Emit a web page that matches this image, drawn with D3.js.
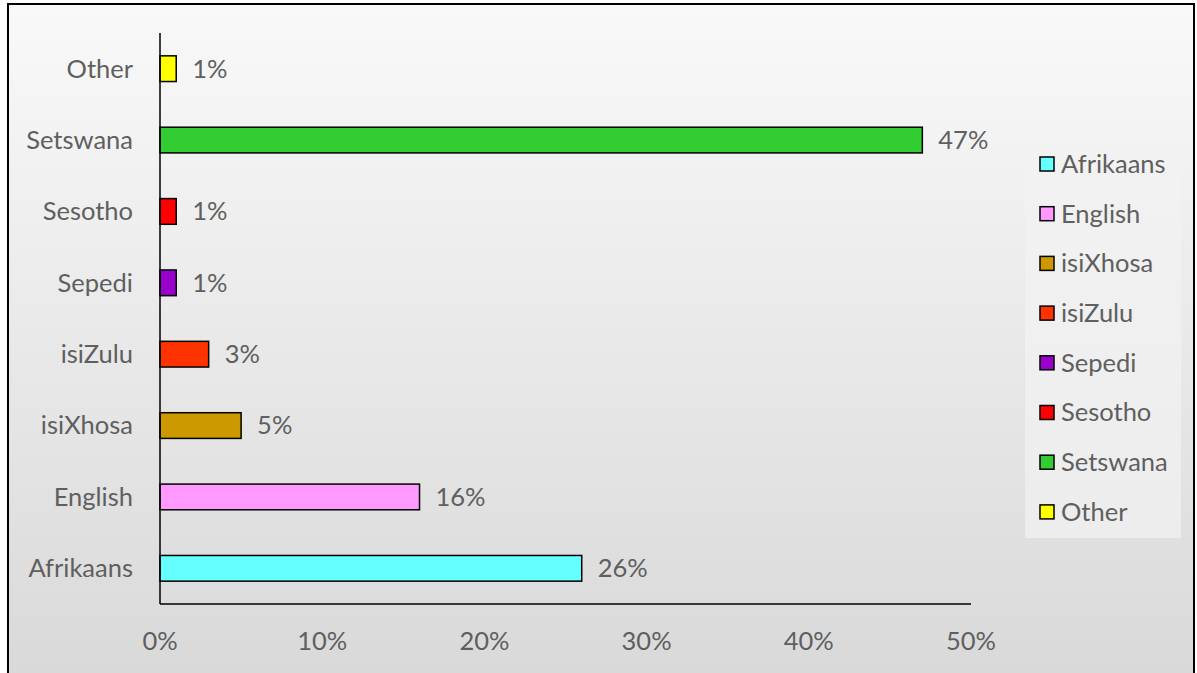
<!DOCTYPE html>
<html>
<head>
<meta charset="utf-8">
<script src="https://cdn.jsdelivr.net/npm/d3@7"></script>
<style>
  body { margin: 0; background: #fff; }
  text { font-family: Lato, "Open Sans", sans-serif; fill: #5f5f5f; }
</style>
</head>
<body>
<script>
// languages, bottom to top
const languages = ['Afrikaans', 'English', 'isiXhosa', 'isiZulu', 'Sepedi', 'Sesotho', 'Setswana', 'Other'];
const shares = [26, 16, 5, 3, 1, 1, 47, 1];
const colours = ['#66FFFF', '#FF99FF', '#CC9900', '#FF3300', '#9900CC', '#FF0000', '#33CC33', '#FFFF00'];
const xTicks = [0, 10, 20, 30, 40, 50];

const width = 1197;
const height = 673;
const fontSize = '25.5px';

const svg = d3.select('body')
  .append('svg')
  .attr('width', width)
  .attr('height', height);

// background gradient
const grad = svg.append('defs').append('linearGradient')
  .attr('id', 'bg')
  .attr('x1', 0).attr('y1', 0).attr('x2', 0).attr('y2', 1);
grad.append('stop').attr('offset', '0%').attr('stop-color', '#f9f9f9');
grad.append('stop').attr('offset', '100%').attr('stop-color', '#d8d8d8');

svg.append('rect')
  .attr('x', 8).attr('y', 4)
  .attr('width', 1186).attr('height', 690)
  .attr('fill', 'url(#bg)')
  .attr('stroke', '#000')
  .attr('stroke-width', 2);

// scales
const x = d3.scaleLinear().domain([0, 50]).range([160, 971]);
const y = d3.scaleBand()
  .domain(languages)
  .range([604, 33])
  .paddingInner(0.64)
  .paddingOuter(0.32);

// bars
svg.selectAll('.bar')
  .data(languages)
  .enter()
  .append('rect')
  .attr('class', 'bar')
  .attr('x', x(0))
  .attr('y', (d) => y(d))
  .attr('width', (d, i) => x(shares[i]) - x(0))
  .attr('height', y.bandwidth())
  .attr('fill', (d, i) => colours[i])
  .attr('stroke', '#000')
  .attr('stroke-width', 1.5);

// value labels
svg.selectAll('.value')
  .data(languages)
  .enter()
  .append('text')
  .attr('class', 'value')
  .attr('x', (d, i) => x(shares[i]) + 16)
  .attr('y', (d) => y(d) + y.bandwidth() / 2)
  .attr('dy', '0.35em')
  .style('font-size', fontSize)
  .text((d, i) => shares[i] + '%');

// axis lines
svg.append('line')
  .attr('x1', x(0)).attr('x2', x(0))
  .attr('y1', 33).attr('y2', 604)
  .attr('stroke', '#000').attr('stroke-width', 1.5);
svg.append('line')
  .attr('x1', x(0)).attr('x2', x(50))
  .attr('y1', 604).attr('y2', 604)
  .attr('stroke', '#000').attr('stroke-width', 1.5);

// category labels
svg.selectAll('.cat')
  .data(languages)
  .enter()
  .append('text')
  .attr('class', 'cat')
  .attr('x', 133)
  .attr('y', (d) => y(d) + y.bandwidth() / 2)
  .attr('dy', '0.35em')
  .attr('text-anchor', 'end')
  .style('font-size', fontSize)
  .text((d) => d);

// x tick labels
svg.selectAll('.tick-label')
  .data(xTicks)
  .enter()
  .append('text')
  .attr('class', 'tick-label')
  .attr('x', (d) => x(d))
  .attr('y', 641)
  .attr('dy', '0.35em')
  .attr('text-anchor', 'middle')
  .style('font-size', fontSize)
  .text((d) => d + '%');

// legend
const legend = svg.append('g');
legend.append('rect')
  .attr('x', 1025).attr('y', 139)
  .attr('width', 156).attr('height', 399)
  .attr('fill', '#f2f2f2')
  .attr('fill-opacity', 0.7);

const item = legend.selectAll('.item')
  .data(languages)
  .enter()
  .append('g')
  .attr('class', 'item')
  .attr('transform', (d, i) => `translate(1040, ${164 + i * 49.7})`);

item.append('rect')
  .attr('x', 0).attr('y', -7)
  .attr('width', 14).attr('height', 14)
  .attr('fill', (d, i) => colours[i])
  .attr('stroke', '#000')
  .attr('stroke-width', 1.5);

item.append('text')
  .attr('x', 21)
  .attr('dy', '0.35em')
  .style('font-size', fontSize)
  .text((d) => d);
</script>
</body>
</html>
